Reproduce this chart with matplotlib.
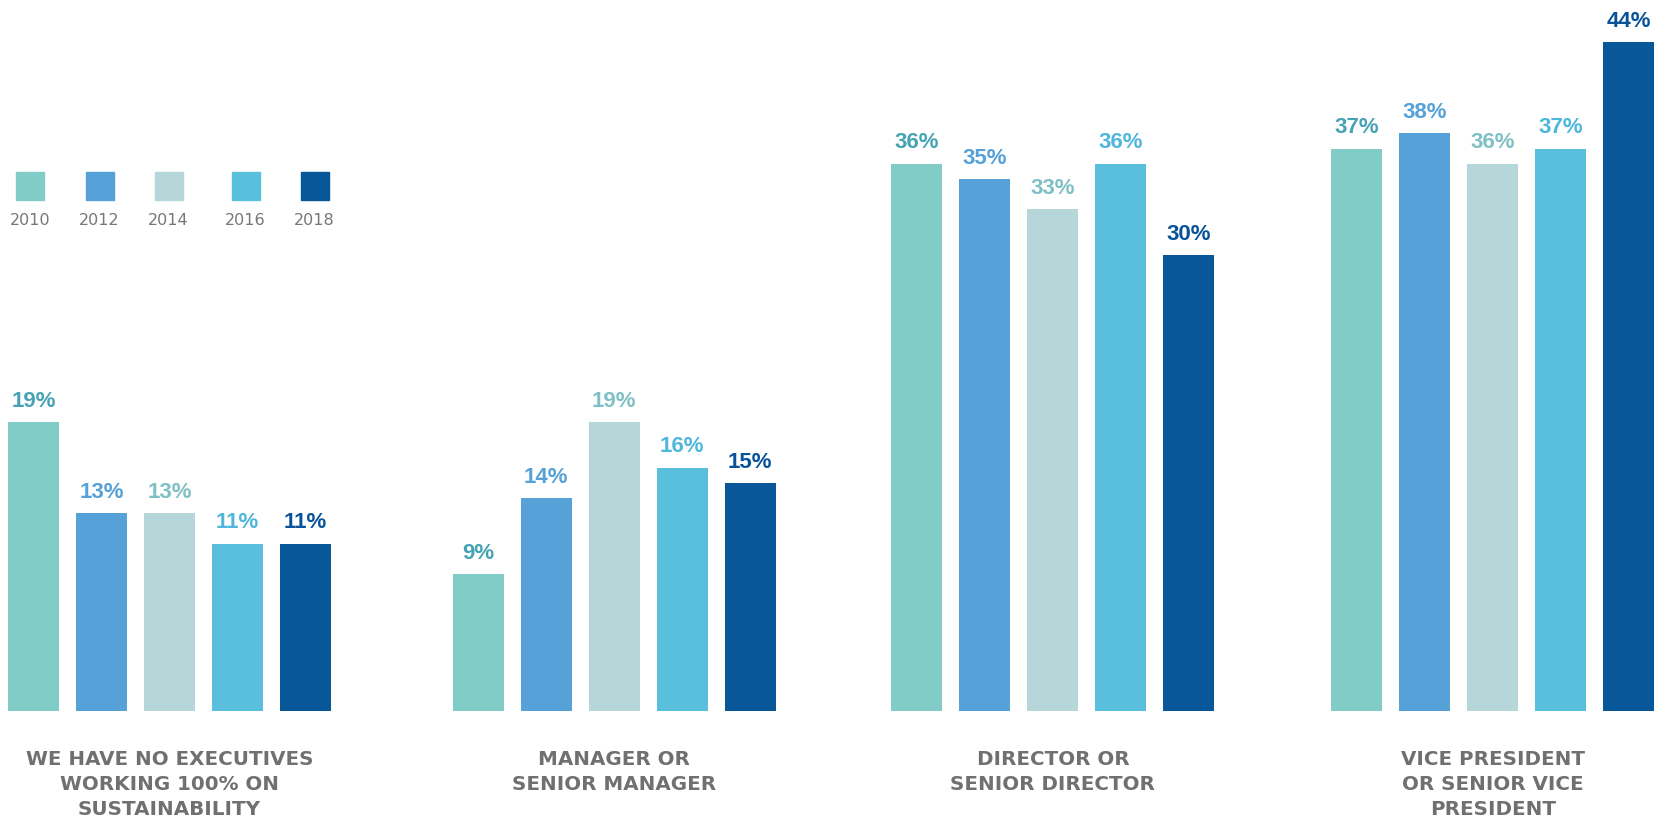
import matplotlib.pyplot as plt
from matplotlib.patches import Rectangle

# data
categories = ['WE HAVE NO EXECUTIVES\nWORKING 100% ON\nSUSTAINABILITY',
              'MANAGER OR\nSENIOR MANAGER',
              'DIRECTOR OR\nSENIOR DIRECTOR',
              'VICE PRESIDENT\nOR SENIOR VICE\nPRESIDENT']
years = ['2010', '2012', '2014', '2016', '2018']
v2010 = [19, 9, 36, 37]
v2012 = [13, 14, 35, 38]
v2014 = [13, 19, 33, 36]
v2016 = [11, 16, 36, 37]
v2018 = [11, 15, 30, 44]
series = [v2010, v2012, v2014, v2016, v2018]

bar_colors = ['#82ccc8', '#55a1d8', '#b5d7da', '#5abedd', '#075799']
label_colors = ['#45a3b3', '#55a1d8', '#7fc0c5', '#4fb6dc', '#08529a']

W, H = 1660, 819
fig = plt.figure(figsize=(W / 100, H / 100), dpi=100)
base_px = 711
ax = fig.add_axes([0, (H - base_px) / H, 1, base_px / H])

# left edge of each group, in bar pitches
group_pos = [0, 6.54, 12.99, 19.46]
for i, vals in enumerate(series):
    xs = [p + i for p in group_pos]
    bars = ax.bar(xs, vals, width=0.75, color=bar_colors[i])
    for b, v in zip(bars, vals):
        ax.annotate(f'{v}%', (b.get_x() + b.get_width() / 2, v),
                    xytext=(0, 7.5), textcoords='offset points',
                    ha='center', va='bottom', fontsize=16, fontweight='bold',
                    family='Liberation Sans', color=label_colors[i])

ax.set_xlim(-33.5 / 68, (W - 33.5) / 68)
ax.set_ylim(0, base_px / 15.2)
ax.axis('off')

# category labels
for p, cat in zip(group_pos, categories):
    ax.annotate(cat, (p + 2, 0), xytext=(0, -28), textcoords='offset points',
                ha='center', va='top', fontsize=14.3, fontweight='bold',
                family='DejaVu Sans', color='#707070', linespacing=1.42,
                annotation_clip=False)

# legend
leg_x = [30, 99.5, 168.5, 245.5, 314.5]
sq = 28
for x, c, y in zip(leg_x, bar_colors, years):
    fig.add_artist(Rectangle(((x - sq / 2) / W, (H - 200) / H), sq / W, sq / H,
                             transform=fig.transFigure, color=c))
    fig.text(x / W, (H - 213) / H, y, ha='center', va='top', fontsize=11.5,
             family='DejaVu Sans', color='#777777')

plt.savefig('out.png', dpi=100)
